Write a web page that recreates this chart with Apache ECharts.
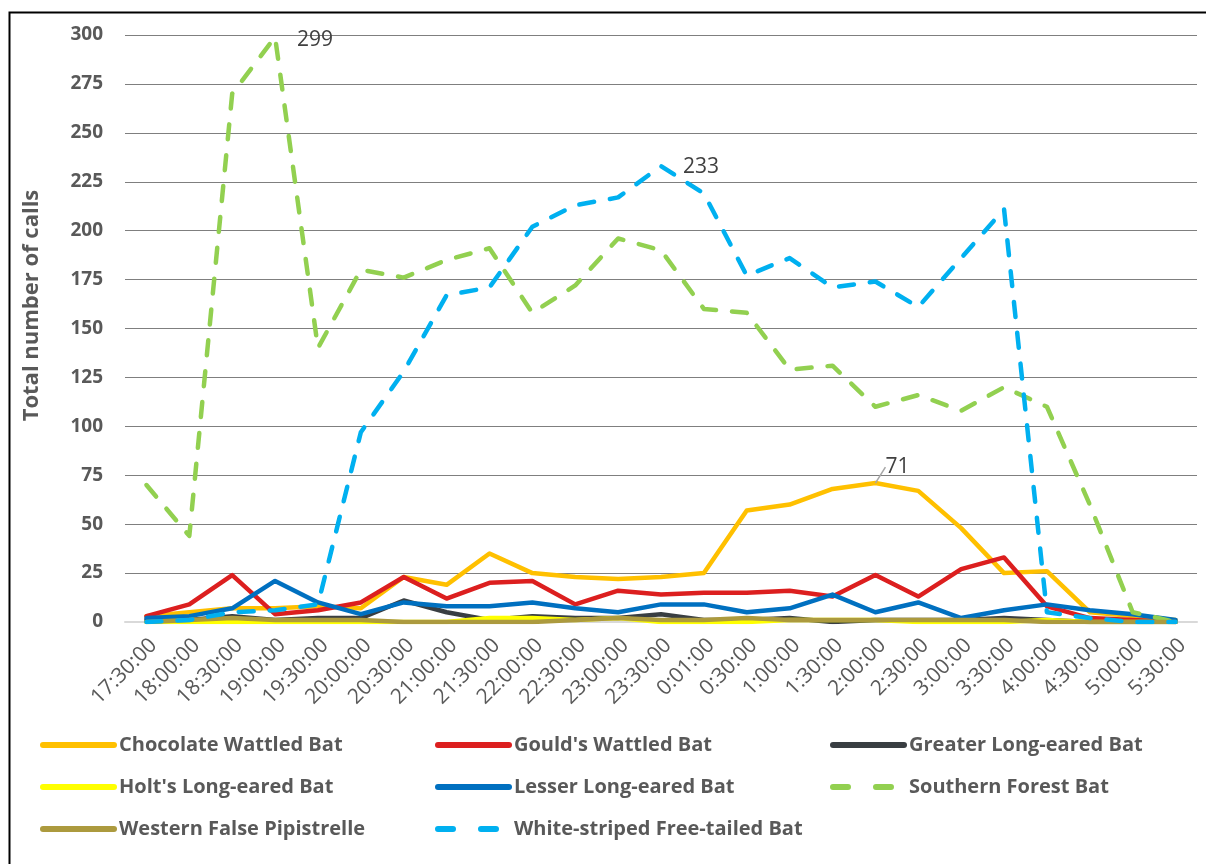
<!DOCTYPE html>
<html>
<head>
<meta charset="utf-8">
<script src="https://cdn.jsdelivr.net/npm/echarts@6/dist/echarts.min.js"></script>
<style>
  html, body { margin: 0; padding: 0; background: #fff; }
  #chart { width: 1206px; height: 864px; }
</style>
</head>
<body>
<div id="chart"></div>
<script>
// Survey time slots (x axis)
const times = ['17:30:00','18:00:00','18:30:00','19:00:00','19:30:00','20:00:00','20:30:00','21:00:00',
  '21:30:00','22:00:00','22:30:00','23:00:00','23:30:00','0:01:00','0:30:00','1:00:00','1:30:00',
  '2:00:00','2:30:00','3:00:00','3:30:00','4:00:00','4:30:00','5:00:00','5:30:00'];

// Total number of calls per species per time slot
const chocolateWattled   = [3,5,7,7,8,7,23,19,35,25,23,22,23,25,57,60,68,71,67,48,25,26,5,3,1];
const gouldsWattled      = [3,9,24,4,6,10,23,12,20,21,9,16,14,15,15,16,13,24,13,27,33,8,2,1,0];
const greaterLongEared   = [1,1,3,1,2,2,11,5,1,3,2,2,4,1,1,2,0,1,1,1,2,1,0,0,0];
const holtsLongEared     = [0,0,0,0,0,0,0,0,2,2,1,2,0,0,0,1,1,1,0,0,0,1,0,0,0];
const lesserLongEared    = [2,3,7,21,10,4,10,8,8,10,7,5,9,9,5,7,14,5,10,2,6,9,6,4,1];
const southernForest     = [70,44,270,299,140,180,176,185,191,158,172,196,190,160,158,129,131,110,116,108,120,110,60,5,0];
const westernFalsePip    = [0,1,2,1,1,1,0,0,0,0,1,2,1,1,2,1,1,1,1,1,1,0,0,0,0];
const whiteStriped       = [0,1,5,6,9,97,128,167,171,202,213,217,233,219,177,186,171,174,161,186,211,5,2,0,0];

// Y axis ticks
const yMin = 0, yMax = 300, yStep = 25;

// Points that carry a value label: series name -> index
const labelled = {
  'Southern Forest Bat': 3,
  'White-striped Free-tailed Bat': 12,
  'Chocolate Wattled Bat': 17
};

const textGray = '#595959';
const font = 'Open Sans';

function makeSeries(name, data, color, dashed) {
  const idx = labelled[name];
  const s = {
    name: name,
    type: 'line',
    data: data.map((v, i) => {
      if (i !== idx) return v;
      const lab = { show: true, position: 'right', color: '#404040', fontSize: 21, fontFamily: font,
                    formatter: '{c}' };
      if (name === 'Southern Forest Bat') { lab.distance = 22; lab.offset = [0, 3]; }
      if (name === 'White-striped Free-tailed Bat') { lab.distance = 22; lab.offset = [0, 1]; }
      if (name === 'Chocolate Wattled Bat') { lab.distance = 8; }
      // an invisible point so the value label has an anchor
      return { value: v, symbol: 'circle', symbolSize: 0, label: lab };
    }),
    symbol: 'none',
    showSymbol: true,
    smooth: false,
    lineStyle: { color: color, width: 4.5, cap: 'round', join: 'round' },
    itemStyle: { color: color },
    emphasis: { disabled: true },
    animation: false
  };
  if (dashed) s.lineStyle.type = [15, 16];
  if (name === 'Chocolate Wattled Bat') {
    s.labelLayout = function (p) {
      return p.dataIndex === idx ? { dx: 2, dy: -16 } : {};
    };
    s.labelLine = { show: true, lineStyle: { color: '#a6a6a6', width: 1.5 } };
  }
  return s;
}

const series = [
  makeSeries('Chocolate Wattled Bat', chocolateWattled, '#FFC000', false),
  makeSeries("Gould's Wattled Bat", gouldsWattled, '#DC1F1F', false),
  makeSeries('Greater Long-eared Bat', greaterLongEared, '#393E42', false),
  makeSeries("Holt's Long-eared Bat", holtsLongEared, '#FFFF00', false),
  makeSeries('Lesser Long-eared Bat', lesserLongEared, '#0070C0', false),
  makeSeries('Southern Forest Bat', southernForest, '#92D050', true),
  makeSeries('Western False Pipistrelle', westernFalsePip, '#AC9A3E', false),
  makeSeries('White-striped Free-tailed Bat', whiteStriped, '#00B0F0', true)
];

const dashedNames = ['Southern Forest Bat', 'White-striped Free-tailed Bat'];

function legendColumn(left, names) {
  return {
    orient: 'vertical',
    left: left,
    top: 733,
    padding: 0,
    itemWidth: 71,
    itemHeight: 14,
    itemGap: 18,
    lineStyle: { width: 6 },
    itemStyle: { opacity: 0 },
    textStyle: { color: textGray, fontSize: 20, fontWeight: 'bold', fontFamily: font, lineHeight: 24 },
    data: names.map(n => dashedNames.indexOf(n) >= 0
      ? { name: n, lineStyle: { width: 6, type: [15, 28] } }
      : { name: n }),
    selectedMode: false
  };
}

const chart = echarts.init(document.getElementById('chart'), null, { renderer: 'canvas' });
chart.setOption({
  backgroundColor: '#fff',
  animation: false,
  grid: { left: 125, right: 9, top: 35, bottom: 242, containLabel: false },
  xAxis: {
    type: 'category',
    data: times,
    boundaryGap: true,
    axisLine: { show: true, lineStyle: { color: '#d9d9d9', width: 2 } },
    axisTick: { show: false },
    axisLabel: { rotate: 45, color: textGray, fontSize: 21, fontFamily: font, margin: 13, interval: 0,
                 verticalAlign: 'top', lineHeight: 20 },
    splitLine: { show: false }
  },
  yAxis: {
    type: 'value',
    min: yMin, max: yMax, interval: yStep,
    name: 'Total number of calls',
    nameLocation: 'middle',
    nameGap: 82,
    nameTextStyle: { color: textGray, fontSize: 22, fontWeight: 'bold', fontFamily: font, padding: [0, 0, 0, 46] },
    axisLine: { show: false },
    axisTick: { show: false },
    axisLabel: { color: textGray, fontSize: 19, fontWeight: 'bold', fontFamily: font, margin: 22 },
    splitLine: { lineStyle: { color: '#7f7f7f', width: 1 } }
  },
  legend: [
    legendColumn(40, ['Chocolate Wattled Bat', "Holt's Long-eared Bat", 'Western False Pipistrelle']),
    legendColumn(435, ["Gould's Wattled Bat", 'Lesser Long-eared Bat', 'White-striped Free-tailed Bat']),
    legendColumn(830, ['Greater Long-eared Bat', 'Southern Forest Bat'])
  ],
  graphic: [{
    type: 'rect',
    left: 7, top: 10,
    shape: { width: 1400, height: 1000 },
    style: { fill: 'none', stroke: '#000', lineWidth: 2 },
    silent: true,
    z: 100
  }],
  series: series
});
</script>
</body>
</html>
